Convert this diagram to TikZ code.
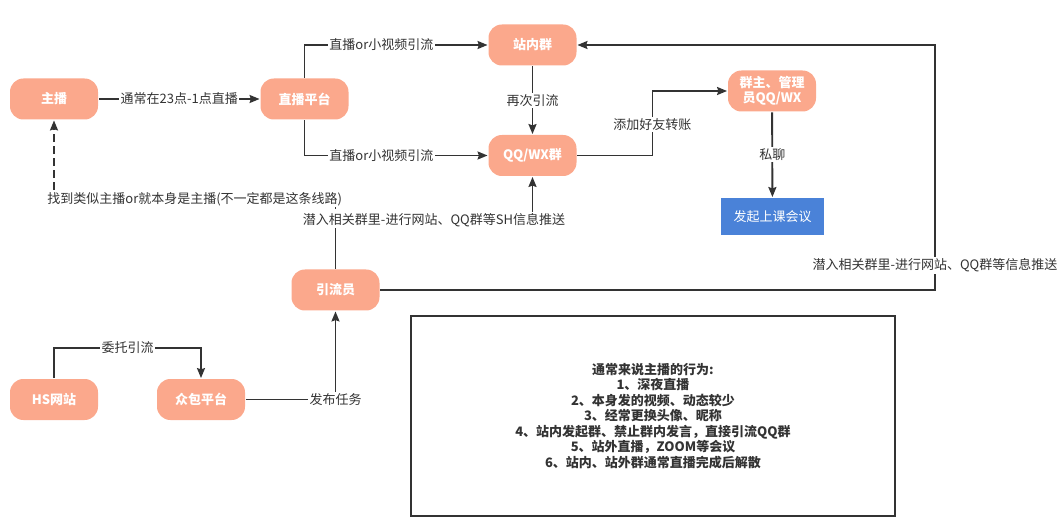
\documentclass[tikz,border=0pt]{standalone}
\usepackage{fontspec}
\setmainfont{Noto Sans CJK SC}
\usepackage{tikz}
\usetikzlibrary{positioning,arrows.meta,calc}
\definecolor{salmon}{RGB}{251,168,140}
\definecolor{meetblue}{RGB}{74,130,216}
\definecolor{ink}{RGB}{51,51,51}

\begin{document}
\begin{tikzpicture}[x=0.75pt, y=-0.75pt, >={Stealth[length=7.5pt,width=6pt,inset=1pt]},
      font=\fontsize{9.75}{11.6}\selectfont, line width=1.4pt, draw=ink,
      pill/.style={fill=salmon, draw=none, rounded corners=10pt, minimum width=66pt, minimum height=30.75pt, align=center, text=white, font=\fontsize{9.75}{11.6}\selectfont\bfseries},
      meet/.style={fill=meetblue, draw=none, minimum width=77pt, minimum height=27.75pt, text=white, font=\fontsize{9.75}{11.6}\selectfont},
      lab/.style={fill=white, text=ink, inner sep=1pt, font=\fontsize{9.75}{11.6}\selectfont},
      arr/.style={->, draw=ink}]
      \useasboundingbox (0,0) rectangle (1064,520);
      \node[pill] (zb) at (54,99) {主播};
      \node[pill] (pt) at (304.5,99) {直播平台};
      \node[pill] (zn) at (532.5,45) {站内群};
      \node[pill] (qq) at (532.5,155.5) {QQ/WX群};
      \node[pill] (qz) at (772,91) {群主、管理\\员QQ/WX};
      \node[meet] (hy) at (772.5,216.5) {发起上课会议};
      \node[pill] (yl) at (335.5,290) {引流员};
      \node[pill] (hs) at (54,399.5) {HS网站};
      \node[pill] (zbao) at (201,399.5) {众包平台};
      \node[draw=ink, minimum width=363pt, minimum height=150pt, align=center,
            font=\fontsize{9.75}{11.6}\selectfont\bfseries, text=ink] (note) at (653,416)
            {通常来说主播的行为:\\1、深夜直播\\2、本身发的视频、动态较少\\3、经常更换头像、昵称\\4、站内发起群、禁止群内发言，直接引流QQ群\\5、站外直播，ZOOM等会议\\6、站内、站外群通常直播完成后解散};
      \draw[arr] (zb) -- node[lab] {通常在23点-1点直播} (pt);
      \draw[arr] (pt.north) |- node[lab, pos=0.71] {直播or小视频引流} (zn.west);
      \draw[arr] (pt.south) |- node[lab, pos=0.71] {直播or小视频引流} (qq.west);
      \draw[arr] (zn) -- node[lab] {再次引流} (qq);
      \draw[arr] (qq.east) -- ++(75,0) |- node[lab, pos=0.24] {添加好友转账} (qz.west);
      \draw[arr] (qz) -- node[lab] {私聊} (hy);
      \draw[arr, dash pattern=on 6pt off 3pt] (yl.north) -- ++(0,-69.6) -| node[lab, pos=0.25] {找到类似主播or就本身是主播(不一定都是这条线路)} (zb.south);
      \draw[arr] (yl.north) -- ++(0,-48.6) -| node[lab, pos=0.25] {潜入相关群里-进行网站、QQ群等SH信息推送} (qq.south);
      \draw[arr] (yl.east) -- ++(554.5,0) |- node[lab, pos=0.05] {潜入相关群里-进行网站、QQ群等信息推送} (zn.east);
      \draw[arr] (hs.north) -- ++(0,-30) -| node[lab, pos=0.25] {委托引流} (zbao.north);
      \draw[arr] (zbao.east) -| node[lab] {发布任务} (yl.south);
    \end{tikzpicture}
\end{document}
